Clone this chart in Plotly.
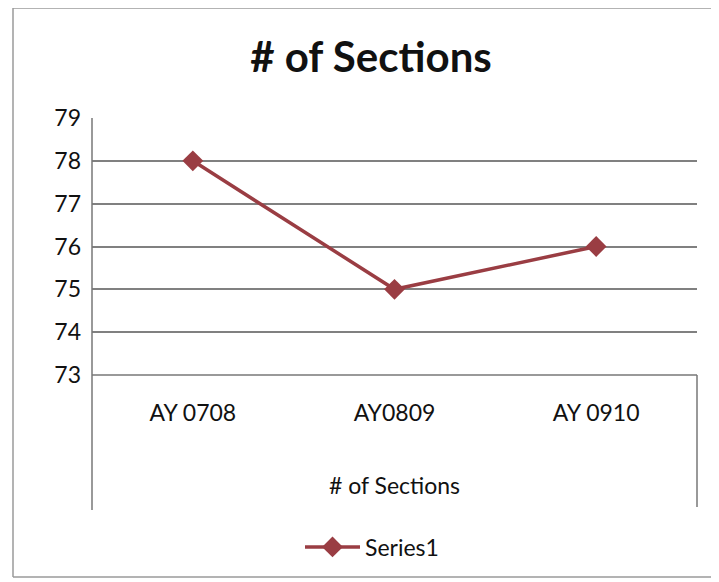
import plotly.graph_objects as go

categories = ["AY 0708", "AY0809", "AY 0910"]
values = [78, 75, 76]
y_ticks = [73, 74, 75, 76, 77, 78, 79]
series_name = "Series1"
title_text = "# of Sections"
x_title = "# of Sections"

OFF = 8  # page body margin
W, H = 719 - OFF, 582 - OFF
# target page coordinates of plot area
PL, PR, PT, PB = 92, 697, 118, 375
L, T = PL - OFF, PT - OFF
R = W - (PR - OFF)
B = H - (PB - OFF)
pw, ph = PR - PL, PB - PT

def px_x(x):
    return (x - PL) / pw

def px_y(y):
    return (PB - y) / ph

line_color = "#9A3D43"
font_family = "Lato, 'Open Sans', sans-serif"

fig = go.Figure()
fig.add_trace(go.Scatter(
    x=categories, y=values, mode="lines+markers", name=series_name,
    line=dict(color=line_color, width=3.5),
    marker=dict(symbol="diamond", size=16, color=line_color),
))

border = dict(color="#9a9a9a", width=1.5)
axis_line = dict(color="#777", width=1.5)
shapes = [
    dict(type="line", xref="paper", yref="paper", x0=px_x(13), x1=px_x(719),
         y0=px_y(8), y1=px_y(8), line=border, layer="below"),
    dict(type="line", xref="paper", yref="paper", x0=px_x(13), x1=px_x(13),
         y0=px_y(8), y1=px_y(577), line=border, layer="below"),
    dict(type="line", xref="paper", yref="paper", x0=px_x(13), x1=px_x(719),
         y0=px_y(577), y1=px_y(577), line=border, layer="below"),
    dict(type="line", xref="paper", yref="paper", x0=0, x1=0,
         y0=px_y(510), y1=1, line=axis_line),
    dict(type="line", xref="paper", yref="paper", x0=1, x1=1,
         y0=px_y(507), y1=0, line=axis_line),
    dict(type="line", xref="paper", yref="paper", x0=0, x1=1,
         y0=0, y1=0, line=axis_line),
]

fig.update_layout(
    width=W, height=H,
    margin=dict(l=L, r=R, t=T, b=B),
    paper_bgcolor="white", plot_bgcolor="white",
    font=dict(family=font_family, color="#111"),
    title=dict(text="<b>" + title_text + "</b>", x=(371 - OFF) / W, xanchor="center",
               y=1 - (57 - OFF) / H, yanchor="middle",
               font=dict(size=42, family=font_family, color="#111")),
    xaxis=dict(type="category", range=[-0.5, 2.5], showgrid=False,
               showline=False, ticks="", tickfont=dict(size=23),
               ticklabelstandoff=22,
               title=dict(text=x_title, font=dict(size=23), standoff=52)),
    yaxis=dict(range=[73, 79], tickvals=y_ticks, showgrid=True,
               gridcolor="#808080", gridwidth=1.5, zeroline=False,
               showline=False, ticks="", tickfont=dict(size=23),
               ticklabelstandoff=10),
    showlegend=True,
    legend=dict(orientation="h", x=px_x(372), xanchor="center",
                y=px_y(547), yanchor="middle", font=dict(size=23),
                itemwidth=55),
    shapes=shapes,
)

fig.write_html("out.html")
